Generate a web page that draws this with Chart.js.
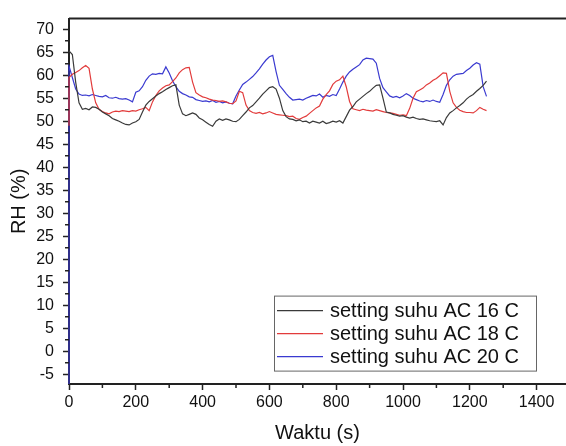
<!DOCTYPE html>
<html>
<head>
<meta charset="utf-8">
<script src="https://cdn.jsdelivr.net/npm/chart.js@4.4.1/dist/chart.umd.min.js"></script>
<style>
  html, body { margin: 0; padding: 0; background: #fff; overflow: hidden; }
  #wrap { width: 566px; height: 446px; }
</style>
</head>
<body>
<div id="wrap"><canvas id="rhChart" width="566" height="446"></canvas></div>
<script>
// waktu (s) - first point repeated so the start jump is drawn vertical
const waktu = [0,
  0, 10, 20, 30, 40, 50, 60, 70, 80, 90,
  100, 110, 120, 130, 140, 150, 160, 170, 180, 190,
  200, 210, 220, 230, 240, 250, 260, 270, 280, 290,
  300, 310, 320, 330, 340, 350, 360, 370, 380, 390,
  400, 410, 420, 430, 440, 450, 460, 470, 480, 490,
  500, 510, 520, 530, 540, 550, 560, 570, 580, 590,
  600, 610, 620, 630, 640, 650, 660, 670, 680, 690,
  700, 710, 720, 730, 740, 750, 760, 770, 780, 790,
  800, 810, 820, 830, 840, 850, 860, 870, 880, 890,
  900, 910, 920, 930, 940, 950, 960, 970, 980, 990,
  1000, 1010, 1020, 1030, 1040, 1050, 1060, 1070, 1080, 1090,
  1100, 1110, 1120, 1130, 1140, 1150, 1160, 1170, 1180, 1190,
  1200, 1210, 1220, 1230, 1240, 1250];

// RH (%) setting suhu AC 16 C
const rh16 = [65.3,
  65.3, 64.5, 58.5, 54.0, 52.6, 52.8, 52.5, 53.1, 53.0, 52.6,
  52.0, 51.6, 51.2, 50.6, 50.3, 50.0, 49.6, 49.3, 49.2, 49.6,
  49.9, 50.4, 52.0, 53.5, 54.3, 54.9, 55.5, 56.0, 56.4, 56.9,
  57.3, 57.7, 57.9, 53.5, 51.6, 51.2, 51.5, 51.8, 51.5, 50.7,
  50.3, 49.8, 49.3, 48.9, 50.0, 50.5, 50.2, 50.5, 50.3, 50.0,
  49.9, 50.4, 51.2, 52.0, 52.9, 53.4, 54.2, 55.0, 55.9, 56.6,
  57.3, 57.5, 57.0, 55.0, 52.3, 51.0, 50.5, 50.4, 50.1, 50.3,
  49.9, 50.0, 49.6, 50.0, 49.8, 49.6, 50.0, 49.5, 49.7, 50.0,
  49.8, 50.1, 49.6, 51.0, 52.4, 53.2, 54.2, 54.8, 55.4, 56.0,
  56.5, 57.2, 57.8, 57.9, 55.0, 52.0, 51.8, 51.5, 51.3, 51.1,
  51.2, 50.9, 50.7, 50.9, 50.6, 50.4, 50.5, 50.3, 50.1, 50.0,
  49.9, 50.1, 49.2, 50.8, 51.8, 52.3, 52.9, 53.4, 54.0, 54.8,
  55.4, 55.8, 56.5, 57.1, 57.8, 58.7];

// RH (%) setting suhu AC 18 C
const rh18 = [49.0,
  59.5, 60.2, 60.6, 61.0, 61.6, 62.1, 61.5, 57.0, 54.0, 52.6,
  52.1, 51.8, 51.6, 52.0, 52.2, 52.1, 52.3, 52.2, 52.1, 52.3,
  52.2, 52.5, 52.7, 53.0, 52.3, 54.2, 55.6, 56.6, 57.2, 57.7,
  57.9, 58.6, 59.4, 60.5, 61.2, 61.6, 61.7, 58.5, 56.2, 55.7,
  55.3, 55.1, 54.8, 54.6, 54.5, 54.3, 54.4, 54.2, 53.9, 53.8,
  54.4, 56.5, 56.2, 53.5, 52.3, 51.9, 51.7, 51.9, 51.6, 51.8,
  52.1, 51.8, 51.5, 51.4, 51.3, 51.2, 51.0, 51.1, 50.6, 50.4,
  50.8, 51.1, 51.7, 52.3, 52.9, 53.3, 54.8, 55.8, 56.6, 58.0,
  58.7, 59.0, 59.8, 57.5, 54.3, 52.7, 52.5, 52.3, 52.6, 52.4,
  52.3, 52.2, 52.5, 52.3, 52.1, 51.9, 51.8, 51.7, 51.5, 51.3,
  51.4, 51.2, 52.8, 55.0, 56.4, 56.8, 57.2, 57.9, 58.3, 58.9,
  59.3, 59.9, 60.5, 60.4, 56.5, 54.0, 53.0, 52.4, 52.1, 51.9,
  51.9, 51.8, 52.3, 53.0, 52.6, 52.3];

// RH (%) setting suhu AC 20 C
const rh20 = [-8.0,
  62.0, 59.5, 57.0, 55.9, 55.6, 55.7, 55.5, 55.8, 55.6, 55.4,
  55.3, 55.6, 55.1, 55.0, 55.2, 54.9, 54.8, 54.9, 54.6, 54.2,
  56.3, 56.6, 57.5, 58.9, 59.8, 60.3, 60.2, 60.4, 60.3, 61.8,
  60.5, 58.8, 57.5, 56.5, 56.0, 55.7, 55.3, 55.2, 54.7, 54.5,
  54.3, 54.4, 54.2, 54.5, 54.1, 54.3, 54.0, 54.2, 53.9, 53.8,
  55.5, 56.8, 58.0, 58.5, 59.1, 59.7, 60.5, 61.4, 62.4, 63.3,
  64.0, 64.3, 60.8, 57.8, 56.9, 56.0, 55.2, 54.6, 54.7, 54.8,
  54.6, 55.0, 55.3, 55.6, 55.5, 55.9, 55.2, 55.6, 55.4, 55.8,
  55.6, 57.0, 58.5, 59.8, 60.7, 61.3, 61.8, 62.3, 63.3, 63.7,
  63.6, 63.5, 62.6, 59.3, 57.3, 56.4, 55.5, 55.2, 55.4, 55.1,
  55.5, 56.0, 55.6, 55.0, 54.7, 54.4, 54.2, 54.5, 54.3, 54.6,
  54.3, 54.1, 55.8, 57.8, 59.0, 59.8, 60.2, 60.3, 60.4, 61.0,
  61.5, 62.2, 62.7, 62.4, 57.5, 55.4];

const seriesLabels = ['setting suhu AC 16 C', 'setting suhu AC 18 C', 'setting suhu AC 20 C'];
const seriesColors = ['#3a3a3a', '#e23b3b', '#3a3ad0'];

// axis ticks
const xMin = 0, xMax = 1488, xStep = 200;
const yMin = -7.1, yMax = 72.3, yStep = 5;
const xMinorTicks = [100, 300, 500, 700, 900, 1100, 1300];
const yMinorTicks = [-2.5, 2.5, 7.5, 12.5, 17.5, 22.5, 27.5, 32.5, 37.5, 42.5, 47.5, 52.5, 57.5, 62.5, 67.5];

const fontFamily = '"Liberation Sans", Arial, sans-serif';
const axisColor = '#222';

function toPoints(values) {
  return values.map((v, i) => ({ x: waktu[i], y: v }));
}

// minor ticks, top frame line and the boxed legend inside the plot
const frameAndLegend = {
  id: 'frameAndLegend',
  afterDraw(chart) {
    const { ctx, chartArea: a, scales: { x, y } } = chart;
    ctx.save();
    ctx.strokeStyle = axisColor;
    ctx.lineWidth = 1.5;
    ctx.beginPath();
    xMinorTicks.forEach(v => {
      const px = x.getPixelForValue(v);
      ctx.moveTo(px, a.bottom);
      ctx.lineTo(px, a.bottom + 4);
    });
    yMinorTicks.forEach(v => {
      const py = y.getPixelForValue(v);
      ctx.moveTo(a.left, py);
      ctx.lineTo(a.left - 4, py);
    });
    ctx.stroke();

    ctx.lineWidth = 2;
    ctx.beginPath();
    ctx.moveTo(a.left, a.top);
    ctx.lineTo(a.right, a.top);
    ctx.stroke();

    // legend
    const lx = a.left + 205, ly = a.top + 277, lw = 262, lh = 75;
    ctx.lineWidth = 1;
    ctx.strokeStyle = '#666';
    ctx.strokeRect(lx + 0.5, ly + 0.5, lw, lh);
    ctx.font = '20px ' + fontFamily;
    ctx.textBaseline = 'middle';
    ctx.textAlign = 'left';
    chart.data.datasets.forEach((ds, i) => {
      const ry = ly + 15 + i * 23;
      ctx.strokeStyle = ds.borderColor;
      ctx.lineWidth = 1.2;
      ctx.beginPath();
      ctx.moveTo(lx + 3, ry);
      ctx.lineTo(lx + 49, ry);
      ctx.stroke();
      ctx.fillStyle = '#111';
      ctx.fillText(ds.label, lx + 56, ry + 1);
    });
    ctx.restore();
  }
};

const ctx = document.getElementById('rhChart').getContext('2d');
const chart = new Chart(ctx, {
  type: 'line',
  data: {
    datasets: [rh16, rh18, rh20].map((vals, i) => ({
      label: seriesLabels[i],
      data: toPoints(vals),
      borderColor: seriesColors[i],
      borderWidth: 1.2,
      pointRadius: 0,
      tension: 0,
      fill: false,
      clip: { left: 2, top: 0, right: 0, bottom: 0 }
    }))
  },
  options: {
    responsive: false,
    animation: false,
    devicePixelRatio: 1,
    layout: { padding: { top: 10, right: 0, bottom: 0, left: 0 } },
    plugins: {
      legend: { display: false },
      tooltip: { enabled: false }
    },
    scales: {
      x: {
        type: 'linear',
        min: xMin,
        max: xMax,
        afterFit: s => { s.height = 62; },
        border: { display: true, color: axisColor, width: 2 },
        grid: { drawOnChartArea: false, drawTicks: true, tickLength: 6, tickColor: axisColor, tickWidth: 1.5 },
        ticks: {
          stepSize: xStep,
          includeBounds: false,
          autoSkip: false,
          maxRotation: 0,
          padding: 3,
          color: '#111',
          font: { family: fontFamily, size: 16 },
          callback: v => String(v)
        },
        title: {
          display: true,
          text: 'Waktu (s)',
          color: '#111',
          font: { family: fontFamily, size: 20 },
          padding: { top: 0, bottom: 1 }
        }
      },
      y: {
        type: 'linear',
        min: yMin,
        max: yMax,
        afterFit: s => { s.width = 69; },
        border: { display: true, color: axisColor, width: 2 },
        grid: { drawOnChartArea: false, drawTicks: true, tickLength: 6, tickColor: axisColor, tickWidth: 1.5 },
        ticks: {
          stepSize: yStep,
          includeBounds: false,
          autoSkip: false,
          padding: 9,
          color: '#111',
          font: { family: fontFamily, size: 16 },
          callback: v => String(v)
        },
        title: {
          display: true,
          text: 'RH (%)',
          color: '#111',
          font: { family: fontFamily, size: 20 },
          padding: { top: 7, bottom: 0 }
        }
      }
    }
  },
  plugins: [frameAndLegend]
});
</script>
</body>
</html>
